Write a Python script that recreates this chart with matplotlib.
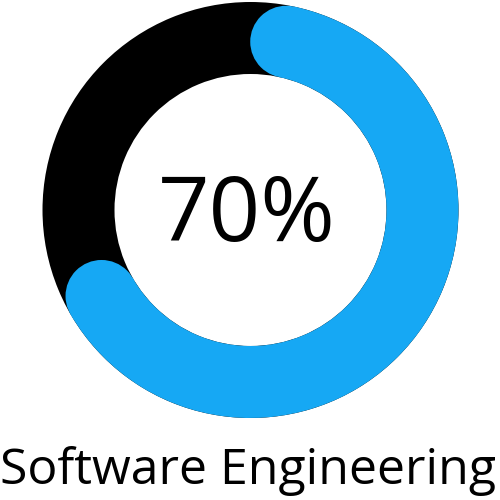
import numpy as np
import matplotlib.pyplot as plt
from matplotlib.patches import Wedge, Circle

label = "Software Engineering"
value = 70  # percent

blue = '#16a8f4'

fig = plt.figure(figsize=(5, 5), dpi=100)
ax = fig.add_axes([0, 0, 1, 1])
ax.set_xlim(0, 500)
ax.set_ylim(0, 500)
ax.set_aspect('equal')
ax.axis('off')

cx, cy = 250.5, 290
r_out, width = 208, 72
r_mid = r_out - width / 2

# background ring
ax.add_patch(Wedge((cx, cy), r_out, 0, 360, width=width, color='black', lw=0))

# progress arc, clockwise from 12 o'clock, round caps kept inside the span
span = 360 * value / 100
start = 90 - span
end = 90
pad = np.degrees((width / 2) / r_mid)
ax.add_patch(Wedge((cx, cy), r_out, start + pad, end - pad, width=width, color=blue, lw=0))
for a in (start + pad, end - pad):
    t = np.radians(a)
    ax.add_patch(Circle((cx + r_mid * np.cos(t), cy + r_mid * np.sin(t)), width / 2, color=blue, lw=0))

ax.text(cx - 4, cy - 8, f"{value}%", ha='center', va='center', fontsize=65,
        family='Open Sans', color='black')
ax.text(248, 29, label, ha='center', va='center', fontsize=36,
        family='Open Sans', color='black')

plt.savefig("out.png", dpi=100)
